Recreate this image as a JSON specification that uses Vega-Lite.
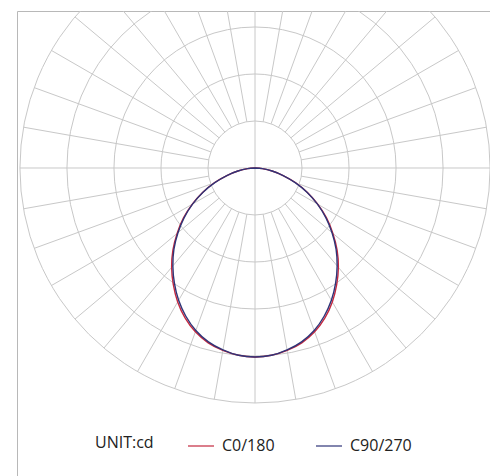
{
  "$schema": "https://vega.github.io/schema/vega-lite/v6.json",
  "width": 473,
  "height": 466,
  "autosize": {"type": "none"},
  "padding": {"left": 17, "top": 11, "right": 0, "bottom": 0},
  "background": "white",
  "config": {
    "view": {"stroke": "#b8b8b8", "strokeWidth": 1},
    "font": "Open Sans"
  },
  "datasets": {
    "rings": [
      {"ring": 100}, {"ring": 200}, {"ring": 300}, {"ring": 400}, {"ring": 500}
    ],
    "spokes": [
      {"x": -500, "y": 0, "x2": 500, "y2": 0},
      {"x": 0, "y": -500, "x2": 0, "y2": 500},
      {"x": 17.36, "y": 98.48, "x2": 86.8, "y2": 492.4},
      {"x": 34.2, "y": 93.97, "x2": 171.0, "y2": 469.8},
      {"x": 50, "y": 86.6, "x2": 250, "y2": 433.0},
      {"x": 64.28, "y": 76.6, "x2": 321.4, "y2": 383.0},
      {"x": 76.6, "y": 64.28, "x2": 383.0, "y2": 321.4},
      {"x": 86.6, "y": 50, "x2": 433.0, "y2": 250},
      {"x": 93.97, "y": 34.2, "x2": 469.8, "y2": 171.0},
      {"x": 98.48, "y": 17.36, "x2": 492.4, "y2": 86.8},
      {"x": -17.36, "y": 98.48, "x2": -86.8, "y2": 492.4},
      {"x": -34.2, "y": 93.97, "x2": -171.0, "y2": 469.8},
      {"x": -50, "y": 86.6, "x2": -250, "y2": 433.0},
      {"x": -64.28, "y": 76.6, "x2": -321.4, "y2": 383.0},
      {"x": -76.6, "y": 64.28, "x2": -383.0, "y2": 321.4},
      {"x": -86.6, "y": 50, "x2": -433.0, "y2": 250},
      {"x": -93.97, "y": 34.2, "x2": -469.8, "y2": 171.0},
      {"x": -98.48, "y": 17.36, "x2": -492.4, "y2": 86.8},
      {"x": 17.36, "y": -98.48, "x2": 86.8, "y2": -492.4},
      {"x": 34.2, "y": -93.97, "x2": 171.0, "y2": -469.8},
      {"x": 50, "y": -86.6, "x2": 250, "y2": -433.0},
      {"x": 64.28, "y": -76.6, "x2": 321.4, "y2": -383.0},
      {"x": 76.6, "y": -64.28, "x2": 383.0, "y2": -321.4},
      {"x": 86.6, "y": -50, "x2": 433.0, "y2": -250},
      {"x": 93.97, "y": -34.2, "x2": 469.8, "y2": -171.0},
      {"x": 98.48, "y": -17.36, "x2": 492.4, "y2": -86.8},
      {"x": -17.36, "y": -98.48, "x2": -86.8, "y2": -492.4},
      {"x": -34.2, "y": -93.97, "x2": -171.0, "y2": -469.8},
      {"x": -50, "y": -86.6, "x2": -250, "y2": -433.0},
      {"x": -64.28, "y": -76.6, "x2": -321.4, "y2": -383.0},
      {"x": -76.6, "y": -64.28, "x2": -383.0, "y2": -321.4},
      {"x": -86.6, "y": -50, "x2": -433.0, "y2": -250},
      {"x": -93.97, "y": -34.2, "x2": -469.8, "y2": -171.0},
      {"x": -98.48, "y": -17.36, "x2": -492.4, "y2": -86.8}
    ],
    "curves": [
      {"plane": "C0/180", "o": 0, "x": 0, "y": 0},
      {"plane": "C0/180", "o": 1, "x": -15.9, "y": -1.4},
      {"plane": "C0/180", "o": 2, "x": -36.4, "y": -6.4},
      {"plane": "C0/180", "o": 3, "x": -59.9, "y": -16.0},
      {"plane": "C0/180", "o": 4, "x": -86.5, "y": -31.5},
      {"plane": "C0/180", "o": 5, "x": -111.5, "y": -52.0},
      {"plane": "C0/180", "o": 6, "x": -133.4, "y": -77.0},
      {"plane": "C0/180", "o": 7, "x": -152.4, "y": -106.7},
      {"plane": "C0/180", "o": 8, "x": -165.5, "y": -138.8},
      {"plane": "C0/180", "o": 9, "x": -174.7, "y": -174.7},
      {"plane": "C0/180", "o": 10, "x": -177.4, "y": -211.4},
      {"plane": "C0/180", "o": 11, "x": -173.8, "y": -248.2},
      {"plane": "C0/180", "o": 12, "x": -164.5, "y": -284.9},
      {"plane": "C0/180", "o": 13, "x": -148.8, "y": -319.0},
      {"plane": "C0/180", "o": 14, "x": -126.9, "y": -348.6},
      {"plane": "C0/180", "o": 15, "x": -99.6, "y": -371.9},
      {"plane": "C0/180", "o": 16, "x": -68.4, "y": -388.0},
      {"plane": "C0/180", "o": 17, "x": -34.9, "y": -398.5},
      {"plane": "C0/180", "o": 18, "x": 0, "y": -402},
      {"plane": "C0/180", "o": 19, "x": 34.9, "y": -398.5},
      {"plane": "C0/180", "o": 20, "x": 68.4, "y": -388.0},
      {"plane": "C0/180", "o": 21, "x": 99.6, "y": -371.9},
      {"plane": "C0/180", "o": 22, "x": 126.9, "y": -348.6},
      {"plane": "C0/180", "o": 23, "x": 148.8, "y": -319.0},
      {"plane": "C0/180", "o": 24, "x": 164.5, "y": -284.9},
      {"plane": "C0/180", "o": 25, "x": 173.8, "y": -248.2},
      {"plane": "C0/180", "o": 26, "x": 177.4, "y": -211.4},
      {"plane": "C0/180", "o": 27, "x": 174.7, "y": -174.7},
      {"plane": "C0/180", "o": 28, "x": 165.5, "y": -138.8},
      {"plane": "C0/180", "o": 29, "x": 152.4, "y": -106.7},
      {"plane": "C0/180", "o": 30, "x": 133.4, "y": -77.0},
      {"plane": "C0/180", "o": 31, "x": 111.5, "y": -52.0},
      {"plane": "C0/180", "o": 32, "x": 86.5, "y": -31.5},
      {"plane": "C0/180", "o": 33, "x": 59.9, "y": -16.0},
      {"plane": "C0/180", "o": 34, "x": 36.4, "y": -6.4},
      {"plane": "C0/180", "o": 35, "x": 15.9, "y": -1.4},
      {"plane": "C0/180", "o": 36, "x": 0, "y": 0},
      {"plane": "C90/270", "o": 0, "x": 0, "y": 0},
      {"plane": "C90/270", "o": 1, "x": -15.9, "y": -1.4},
      {"plane": "C90/270", "o": 2, "x": -36.4, "y": -6.4},
      {"plane": "C90/270", "o": 3, "x": -59.9, "y": -16.0},
      {"plane": "C90/270", "o": 4, "x": -85.5, "y": -31.1},
      {"plane": "C90/270", "o": 5, "x": -110.6, "y": -51.6},
      {"plane": "C90/270", "o": 6, "x": -132.5, "y": -76.5},
      {"plane": "C90/270", "o": 7, "x": -150.7, "y": -105.5},
      {"plane": "C90/270", "o": 8, "x": -163.9, "y": -137.6},
      {"plane": "C90/270", "o": 9, "x": -172.5, "y": -172.5},
      {"plane": "C90/270", "o": 10, "x": -174.8, "y": -208.4},
      {"plane": "C90/270", "o": 11, "x": -171.5, "y": -244.9},
      {"plane": "C90/270", "o": 12, "x": -162.5, "y": -281.5},
      {"plane": "C90/270", "o": 13, "x": -147.1, "y": -315.4},
      {"plane": "C90/270", "o": 14, "x": -125.9, "y": -345.8},
      {"plane": "C90/270", "o": 15, "x": -99.1, "y": -369.9},
      {"plane": "C90/270", "o": 16, "x": -68.2, "y": -387.0},
      {"plane": "C90/270", "o": 17, "x": -34.9, "y": -398.5},
      {"plane": "C90/270", "o": 18, "x": 0, "y": -402},
      {"plane": "C90/270", "o": 19, "x": 34.9, "y": -398.5},
      {"plane": "C90/270", "o": 20, "x": 68.2, "y": -387.0},
      {"plane": "C90/270", "o": 21, "x": 99.1, "y": -369.9},
      {"plane": "C90/270", "o": 22, "x": 125.9, "y": -345.8},
      {"plane": "C90/270", "o": 23, "x": 147.1, "y": -315.4},
      {"plane": "C90/270", "o": 24, "x": 162.5, "y": -281.5},
      {"plane": "C90/270", "o": 25, "x": 171.5, "y": -244.9},
      {"plane": "C90/270", "o": 26, "x": 174.8, "y": -208.4},
      {"plane": "C90/270", "o": 27, "x": 172.5, "y": -172.5},
      {"plane": "C90/270", "o": 28, "x": 163.9, "y": -137.6},
      {"plane": "C90/270", "o": 29, "x": 150.7, "y": -105.5},
      {"plane": "C90/270", "o": 30, "x": 132.5, "y": -76.5},
      {"plane": "C90/270", "o": 31, "x": 110.6, "y": -51.6},
      {"plane": "C90/270", "o": 32, "x": 85.5, "y": -31.1},
      {"plane": "C90/270", "o": 33, "x": 59.9, "y": -16.0},
      {"plane": "C90/270", "o": 34, "x": 36.4, "y": -6.4},
      {"plane": "C90/270", "o": 35, "x": 15.9, "y": -1.4},
      {"plane": "C90/270", "o": 36, "x": 0, "y": 0}
    ]
  },
  "layer": [
    {
      "data": {"name": "spokes"},
      "mark": {"type": "rule", "stroke": "#c8c8c8", "strokeWidth": 1, "clip": true},
      "encoding": {
        "x": {"field": "x", "type": "quantitative", "axis": null, "scale": {"domain": [-506.4, 500], "nice": false, "zero": false}},
        "y": {"field": "y", "type": "quantitative", "axis": null, "scale": {"domain": [-657.4, 334.0], "nice": false, "zero": false}},
        "x2": {"field": "x2"},
        "y2": {"field": "y2"}
      }
    },
    {
      "data": {"name": "rings"},
      "mark": {"type": "arc", "theta": 0, "theta2": 6.2832, "filled": false, "fill": null, "stroke": "#c8c8c8", "strokeWidth": 1, "clip": true},
      "encoding": {
        "x": {"datum": 0, "type": "quantitative", "axis": null, "scale": {"domain": [-506.4, 500], "nice": false, "zero": false}},
        "y": {"datum": 0, "type": "quantitative", "axis": null, "scale": {"domain": [-657.4, 334.0], "nice": false, "zero": false}},
        "radius": {"field": "ring", "type": "quantitative", "stack": null, "scale": {"type": "linear", "domain": [0, 500], "range": [0, 235], "zero": true, "nice": false}}
      }
    },
    {
      "data": {"name": "curves"},
      "mark": {"type": "line", "strokeWidth": 1.4, "interpolate": "catmull-rom", "clip": true},
      "encoding": {
        "x": {"field": "x", "type": "quantitative", "axis": null, "scale": {"domain": [-506.4, 500], "nice": false, "zero": false}},
        "y": {"field": "y", "type": "quantitative", "axis": null, "scale": {"domain": [-657.4, 334.0], "nice": false, "zero": false}},
        "order": {"field": "o", "type": "quantitative"},
        "color": {
          "field": "plane",
          "type": "nominal",
          "scale": {"domain": ["C0/180", "C90/270"], "range": ["#c4283f", "#2f3478"]},
          "legend": {
            "title": "UNIT:cd",
            "titleOrient": "left",
            "titleFont": "Open Sans",
            "titleFontSize": 16,
            "titleFontWeight": "normal",
            "titleColor": "#222222",
            "titlePadding": 33,
            "titleBaseline": "middle",
            "labelFont": "Open Sans",
            "labelFontSize": 16,
            "labelColor": "#222222",
            "labelOffset": 7,
            "symbolType": "stroke",
            "symbolSize": 676,
            "symbolStrokeWidth": 1.2,
            "direction": "horizontal",
            "orient": "none",
            "legendX": 78,
            "legendY": 421,
            "columnPadding": 38
          }
        }
      }
    }
  ]
}
